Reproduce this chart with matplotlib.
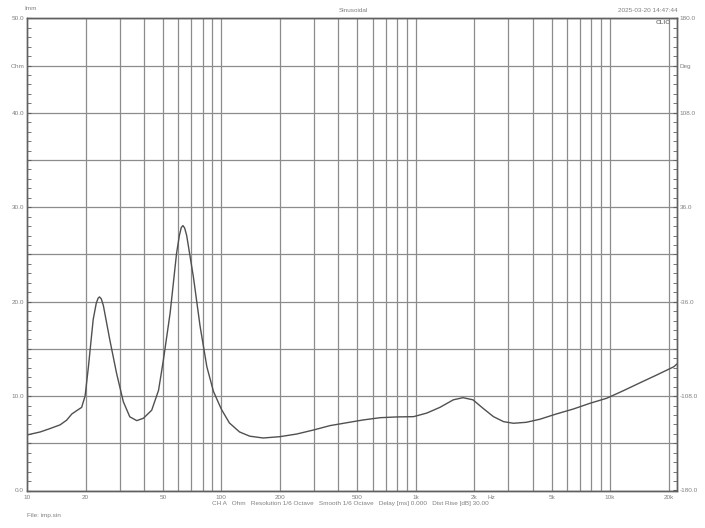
import numpy as np
import matplotlib.pyplot as plt
from matplotlib.ticker import FixedLocator, NullFormatter
import matplotlib.transforms as mtransforms

plt.rcParams['font.family'] = ['Liberation Sans', 'DejaVu Sans']

# Impedance curve (Hz, Ohm)
freq = [10, 11.7, 13.1, 14.8, 16.0, 17.0, 18.0, 19.1, 19.9, 20.7, 21.9, 22.7,
        23.2, 23.6, 24.1, 24.7, 26.7, 28.9, 31.3, 33.8, 36.7, 39.7, 43.8, 47.5,
        50.3, 54.5, 58.8, 60.8, 62.2, 63.4, 64.7, 66.3, 71.8, 77.7, 84.2, 91.0,
        100, 110, 124, 140, 164, 200, 244, 297, 362, 443, 536, 657, 800, 975,
        1140, 1330, 1560, 1750, 1970, 2220, 2510, 2830, 3180, 3700, 4340, 5280,
        6470, 7890, 9610, 11700, 14300, 17400, 21250, 22080]
ohm = [5.88, 6.2, 6.55, 6.95, 7.45, 8.1, 8.45, 8.8, 10.0, 13.1, 18.1, 19.8,
       20.35, 20.5, 20.3, 19.6, 15.9, 12.4, 9.4, 7.8, 7.4, 7.65, 8.5, 10.6,
       13.8, 18.8, 25.1, 27.0, 27.85, 28.05, 27.8, 27.0, 22.6, 17.4, 13.1, 10.5,
       8.6, 7.15, 6.2, 5.75, 5.56, 5.7, 5.98, 6.4, 6.87, 7.18, 7.47, 7.71, 7.79, 7.82,
       8.2, 8.8, 9.6, 9.83, 9.6, 8.7, 7.82, 7.29, 7.12, 7.22, 7.54, 8.1,
       8.63, 9.24, 9.77, 10.57, 11.42, 12.24, 13.1, 13.4]

# axis labels
x_label_pos = [10, 20, 50, 100, 200, 500, 1000, 2000, 5000, 10000, 20000]
x_labels = ['10', '20', '50', '100', '200', '500', '1k', '2k', '5k', '10k', '20k']
hz_pos = 2450
x_grid = [20, 30, 40, 50, 60, 70, 80, 90, 100, 200, 300, 400, 500, 600, 700,
          800, 900, 1000, 2000, 3000, 4000, 5000, 6000, 7000, 8000, 9000,
          10000, 20000]
y_left_pos = [0, 5, 10, 15, 20, 25, 30, 35, 40, 45, 50]
y_left_labels = ['0.0', '', '10.0', '', '20.0', '', '30.0', '', '40.0', 'Ohm', '50.0']
y_right_pos = [-180, -108, -36, 36, 108, 144, 180]
y_right_labels = ['-180.0', '-108.0', '-36.0', '36.0', '108.0', 'Deg', '180.0']

W, H = 705, 528
fig = plt.figure(figsize=(W / 100, H / 100), dpi=100)
ax = fig.add_axes([27 / W, 1 - 490.5 / H, 650 / W, 472.2 / H])

tcol = '#808080'
gcol = '#8c8c8c'
fs = 4.6

ax.set_xscale('log')
ax.set_xlim(10, 22080)
ax.set_ylim(0, 50)

# vertical grid lines
for g in x_grid:
    ax.axvline(g, color=gcol, lw=0.9, zorder=1)

ax.plot(freq, ohm, color='#505050', lw=1.0, zorder=3)

ax.xaxis.set_major_locator(FixedLocator(x_label_pos))
ax.set_xticklabels(x_labels)
ax.xaxis.set_minor_locator(FixedLocator([]))
ax.xaxis.set_minor_formatter(NullFormatter())
ax.tick_params(axis='x', which='both', length=0, labelsize=fs, labelcolor=tcol, pad=3)
trans = mtransforms.blended_transform_factory(ax.transData, ax.transAxes)
ax.text(hz_pos, -0.0105, 'Hz', transform=trans, ha='center', va='top',
        fontsize=fs, color=tcol)

ax.set_yticks(y_left_pos)
ax.set_yticklabels(y_left_labels)
ax.yaxis.set_minor_locator(FixedLocator(np.arange(0, 51, 1)))
ax.tick_params(axis='y', which='both', direction='in', length=3, color='#606060',
               labelsize=fs, labelcolor=tcol, pad=2)
ax.grid(True, which='major', axis='y', color=gcol, lw=0.9, zorder=1)

ax2 = ax.twinx()
ax2.set_ylim(-180, 180)
ax2.set_yticks(y_right_pos)
ax2.set_yticklabels(y_right_labels)
ax2.yaxis.set_minor_locator(FixedLocator(np.arange(-180, 181, 7.2)))
ax2.tick_params(axis='y', which='both', direction='in', length=3, color='#606060',
                labelsize=fs, labelcolor=tcol, pad=2)

for a in (ax, ax2):
    for s in a.spines.values():
        s.set_color('#606060')
        s.set_linewidth(1.0)

def ftext(x, y, s, **kw):
    fig.text(x / W, 1 - y / H, s, fontsize=fs, color=tcol, va='center', **kw)

ftext(31, 9, 'Imm', ha='center')
ftext(353, 10, 'Sinusoidal', ha='center')
ftext(678, 10, '2025-03-20 14:47:44', ha='right')
ftext(671, 23, 'CLIO', ha='right', fontweight='bold')
ftext(350, 503, 'CH A   Ohm   Resolution 1/6 Octave   Smooth 1/6 Octave   '
      'Delay [ms] 0.000   Dist Rise [dB] 30.00', ha='center')
ftext(27, 515, 'File: imp.sin', ha='left')

fig.savefig('out.png', dpi=100, facecolor='white')
